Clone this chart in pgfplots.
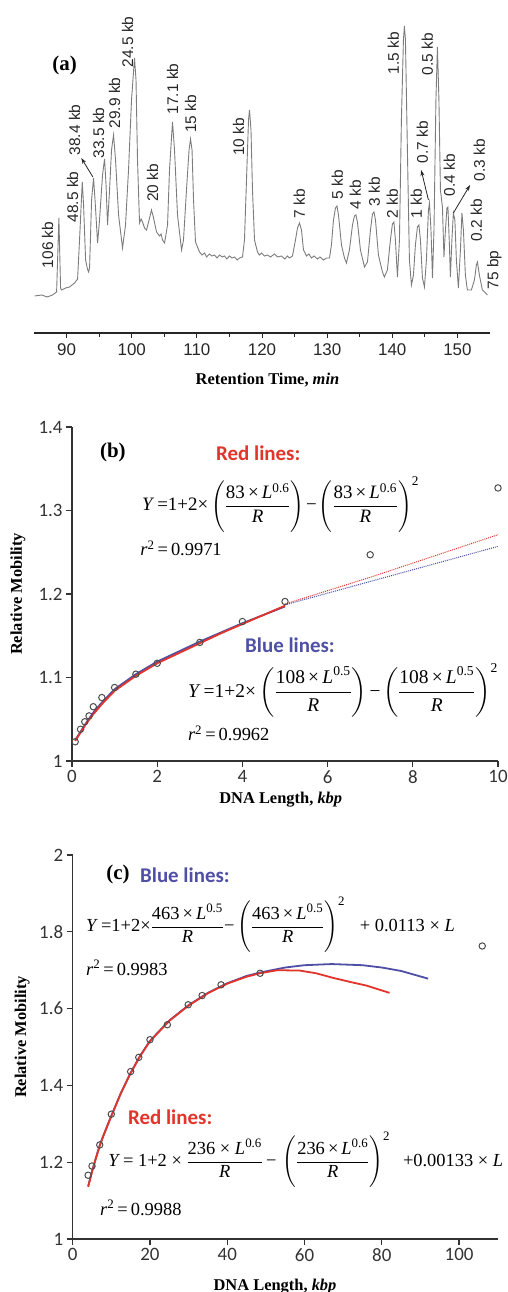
\documentclass[border=0pt]{standalone}
\usepackage{amsmath}
\usepackage{fontspec}
\setmainfont{Liberation Serif}
\newfontfamily\arial{Liberation Sans}
\newfontfamily\calibri{Carlito}
\usepackage{pgfplots}
\pgfplotsset{compat=1.18}
\usetikzlibrary{arrows.meta}

\definecolor{redl}{HTML}{E2342B}
\definecolor{bluel}{HTML}{4F4FA6}
\definecolor{tracec}{HTML}{7C7C7C}

\newcommand{\tm}[1]{\text{\normalfont #1}}
\newcommand{\fr}[2]{\dfrac{\tm{#1\,×\,}\textit{L}^{\tm{#2}}}{\textit{R}}}
\newcommand{\frw}[2]{\dfrac{\tm{#1 × }\textit{L}^{\tm{#2}}}{\textit{R}}}
\newcommand{\pfr}[2]{\left(\fr{#1}{#2}\right)}
\newcommand{\eqfont}{\fontsize{18.5}{22}\selectfont}
\newcommand{\pk}{\arial\fontsize{15.5}{18}\selectfont}

\pgfplotsset{
  fitpanel/.style={
    scale only axis, anchor=south west, clip=false,
    axis lines=left, axis line style={-, line width=1.4bp, black!80},
    tick align=outside, major tick length=6bp,
    tick style={line width=1.2bp, black!80},
    ticklabel style={font=\calibri\fontsize{19}{22}\selectfont, black!80},
    /pgf/number format/assume math mode=true,
    xlabel style={font=\fontsize{16.5}{19}\selectfont, anchor=center},
    ylabel style={font=\fontsize{16.5}{19}\selectfont, anchor=center},
  },
  pts/.style={only marks, mark=o, mark size=3.2bp, mark options={line width=1bp, black!70}},
}

\begin{document}
\begin{tikzpicture}
\path[use as bounding box] (0,0) rectangle (508bp,1292bp);

% ---------------- (a) chromatogram
\begin{axis}[
  at={(34bp,959bp)}, anchor=south west,
  scale only axis, width=456bp, height=313bp, clip=false,
  xmin=85, xmax=155, ymin=0, ymax=313,
  axis x line=bottom, axis y line=none,
  axis line style={-, line width=1.2bp, black!85},
  xtick={90,100,...,150}, minor xtick={95,105,...,145},
  tick align=outside, major tick length=5bp, minor tick length=4bp,
  tick style={line width=1bp, black!85},
  xticklabel style={font=\arial\fontsize{17}{20}\selectfont, black!85, yshift=-2bp},
  /pgf/number format/assume math mode=true,
  xlabel={\textbf{Retention Time, \textit{min}}},
  xlabel style={at={(rel axis cs:0.512,-0.150)}, anchor=center, font=\fontsize{16.5}{19}\selectfont},
]
\addplot[tracec, line width=0.9bp] coordinates {
(85.09,37)(86.2,38)(87.0,36)(87.85,38)(88.47,41)(88.82,115)(89.08,45)(89.23,43)(89.85,45)
(90.46,46)(91.23,50)(91.69,54)(91.99,93)(92.41,151)(92.61,128)(92.92,73)(93.2,64)(93.38,61)
(93.53,65)(93.84,133)(94.14,155)(94.37,133)(94.76,90)(95.06,113)(95.52,158)(95.83,174)
(96.06,148)(96.29,108)(96.60,143)(96.90,183)(97.21,198)(97.52,173)(97.98,118)(98.59,85)
(99.05,108)(99.51,163)(99.97,233)(100.43,275)(100.66,253)(100.89,173)(101.20,110)(101.45,114)
(101.66,111)(101.97,105)(102.28,103)(102.74,115)(103.04,123)(103.35,115)(103.81,101)
(104.27,97)(104.5,99)(104.73,93)(105.04,90)(105.50,108)(105.80,163)(106.26,211)(106.57,183)
(107.03,118)(107.65,83)(107.95,93)(108.41,143)(108.80,183)(109.03,194)(109.26,183)(109.49,133)
(109.79,91)(110.41,81)(110.8,78)(111.17,80)(111.5,76)(111.94,79)(112.3,77)(112.71,78)(113.1,75)
(113.48,78)(113.9,76)(114.24,77)(114.6,74)(115.01,77)(115.4,75)(115.78,76)(116.2,73)
(116.55,75)(117.01,76)(117.31,93)(117.62,153)(117.93,213)(118.08,223)(118.31,203)(118.54,143)
(118.85,93)(119.31,81)(119.6,78)(119.92,80)(120.4,77)(120.84,78)(121.3,76)(121.92,79)
(122.4,76)(122.99,77)(123.5,74)(123.9,77)(124.22,75)(124.68,77)(125.14,93)(125.45,105)
(125.75,110)(126.06,103)(126.37,83)(126.83,77)(127.2,79)(127.59,75)(128.0,77)(128.51,74)
(128.9,76)(129.43,73)(129.9,75)(130.36,75)(130.66,88)(130.97,113)(131.28,125)(131.51,127)
(131.74,118)(132.20,88)(132.66,75)(132.96,70)(133.42,83)(133.89,108)(134.19,117)(134.42,118)
(134.65,111)(135.11,83)(135.73,66)(136.19,71)(136.65,103)(136.96,119)(137.19,121)(137.42,113)
(137.87,78)(138.49,61)(138.79,56)(139.25,63)(139.71,93)(140.02,109)(140.25,111)(140.48,93)
(140.79,56)(141.10,93)(141.40,213)(141.71,293)(141.86,307)(142.02,293)(142.32,183)(142.63,73)
(142.94,48)(143.25,58)(143.55,88)(143.86,106)(144.09,108)(144.32,93)(144.63,55)(144.94,46)
(145.24,73)(145.55,123)(145.71,130)(145.94,103)(146.17,55)(146.40,103)(146.70,233)(146.93,286)
(147.16,233)(147.39,143)(147.70,126)(147.93,76)(148.16,103)(148.39,125)(148.54,126)(148.77,88)
(148.92,56)(149.15,93)(149.38,120)(149.61,113)(149.84,73)(150.15,45)(150.46,83)(150.69,120)
(150.92,103)(151.22,58)(151.53,43)(152.14,43)(152.61,53)(152.91,68)(153.07,71)(153.37,58)
(153.83,43)(154.60,38)
};
\node[font=\fontsize{21}{24}\selectfont\bfseries] at (axis cs:89.69,268) {(a)};
\begin{scope}[every node/.style={rotate=90, font=\pk, text=black!85, inner sep=0}]
\node at (axis cs:87.08,88) {106 kb};
\node at (axis cs:90.92,136) {48.5 kb};
\node at (axis cs:91.23,203) {38.4 kb};
\node at (axis cs:94.91,200) {33.5 kb};
\node at (axis cs:97.37,230) {29.9 kb};
\node at (axis cs:99.36,291) {24.5 kb};
\node at (axis cs:103.20,150) {20 kb};
\node at (axis cs:106.26,244) {17.1 kb};
\node at (axis cs:109.03,219) {15 kb};
\node at (axis cs:116.39,196) {10 kb};
\node at (axis cs:125.75,129) {7 kb};
\node at (axis cs:131.58,148) {5 kb};
\node at (axis cs:134.34,138) {4 kb};
\node at (axis cs:137.26,141) {3 kb};
\node at (axis cs:140.02,129) {2 kb};
\node at (axis cs:140.17,280) {1.5 kb};
\node at (axis cs:143.70,129) {1 kb};
\node at (axis cs:144.63,191) {0.7 kb};
\node at (axis cs:145.39,279) {0.5 kb};
\node at (axis cs:148.77,158) {0.4 kb};
\node at (axis cs:153.37,173) {0.3 kb};
\node at (axis cs:152.91,113) {0.2 kb};
\node at (axis cs:155.67,63) {75 bp};
\end{scope}
\draw[-{Stealth[length=6bp,width=4bp]}, line width=0.8bp, black!85] (axis cs:94.04,156) -- (axis cs:92.26,175);
\draw[-{Stealth[length=6bp,width=4bp]}, line width=0.8bp, black!85] (axis cs:145.55,133) -- (axis cs:144.43,163);
\draw[-{Stealth[length=6bp,width=4bp]}, line width=0.8bp, black!85] (axis cs:149.38,120) -- (axis cs:151.94,148);
\end{axis}

% ---------------- (b)
\begin{axis}[fitpanel,
  at={(72bp,531bp)}, width=426bp, height=334bp,
  xmin=0, xmax=10, ymin=1, ymax=1.4,
  xtick={0,2,4,6,8,10}, ytick={1,1.1,1.2,1.3,1.4},
  xlabel={\textbf{DNA Length, \textit{kbp}}},
  ylabel={\textbf{Relative Mobility}},
  xlabel style={at={(rel axis cs:0.49,-0.117)}},
  ylabel style={at={(rel axis cs:-0.127,0.5)}},
]
\addplot[bluel, line width=1.8bp] coordinates {
(0.075,1.025)(0.15,1.031)(0.25,1.039)(0.35,1.047)(0.5,1.058)(0.7,1.070)(1,1.086)(1.5,1.104)
(2,1.119)(2.5,1.131)(3,1.143)(3.5,1.154)(4,1.165)(4.5,1.175)(5,1.185)};
\addplot[redl, line width=1.8bp] coordinates {
(0.075,1.024)(0.15,1.030)(0.25,1.038)(0.35,1.046)(0.5,1.056)(0.7,1.068)(1,1.084)(1.5,1.102)
(2,1.117)(2.5,1.129)(3,1.141)(3.5,1.153)(4,1.164)(4.5,1.175)(5,1.186)};
\addplot[redl, densely dotted, line width=1bp] coordinates {
(5,1.188)(6,1.204)(7,1.220)(8,1.237)(9,1.254)(10,1.271)};
\addplot[bluel, densely dotted, line width=1bp] coordinates {
(5,1.187)(6,1.201)(7,1.215)(8,1.229)(9,1.243)(10,1.257)};
\addplot[pts] coordinates {
(0.075,1.023)(0.2,1.038)(0.3,1.047)(0.4,1.054)(0.5,1.065)(0.7,1.076)(1,1.088)(1.5,1.104)
(2,1.117)(3,1.142)(4,1.167)(5,1.191)(7,1.247)(10,1.327)};
\node[font=\fontsize{21}{24}\selectfont\bfseries] at (axis cs:0.96,1.370) {(b)};
\node[anchor=west, inner sep=0, text=redl, font=\calibri\bfseries\fontsize{21}{25}\selectfont] at (axis cs:3.38,1.368) {Red lines:};
\node[anchor=west, inner sep=0, font=\fontsize{19}{22}\selectfont] at (axis cs:1.64,1.307)
  {$\textit{Y}\tm{ =1+2×}\pfr{83}{0.6}\tm{\kern-1pt−\kern-1pt}\pfr{83}{0.6}^{\tm{2}}$};
\node[anchor=west, inner sep=0, font=\eqfont] at (axis cs:1.60,1.255) {$\textit{r}^{\tm{2}}\tm{\,=\,0.9971}$};
\node[anchor=west, inner sep=0, text=bluel, font=\calibri\bfseries\fontsize{21}{25}\selectfont] at (axis cs:4.06,1.139) {Blue lines:};
\node[anchor=west, inner sep=0, font=\fontsize{19.5}{23}\selectfont] at (axis cs:2.72,1.085)
  {$\textit{Y}\tm{ =1+2×}\pfr{108}{0.5}\tm{\kern-1pt−\kern-1pt}\pfr{108}{0.5}^{\tm{2}}$};
\node[anchor=west, inner sep=0, font=\eqfont] at (axis cs:2.72,1.0335) {$\textit{r}^{\tm{2}}\tm{\,=\,0.9962}$};
\end{axis}

% ---------------- (c)
\begin{axis}[fitpanel,
  at={(72.7bp,53bp)}, width=425bp, height=384bp,
  xmin=0, xmax=110, ymin=1, ymax=2,
  xtick={0,20,40,60,80,100}, ytick={1,1.2,1.4,1.6,1.8,2},
  xlabel={\textbf{DNA Length, \textit{kbp}}},
  ylabel={\textbf{Relative Mobility}},
  xlabel style={at={(rel axis cs:0.476,-0.125)}},
  ylabel style={at={(rel axis cs:-0.119,0.526)}},
]
\addplot[bluel, line width=1.8bp] coordinates {
(4,1.137)(5,1.176)(6,1.211)(7,1.244)(8,1.271)(10,1.321)(12.5,1.381)(15,1.433)(17.5,1.478)
(20,1.516)(25,1.569)(30,1.609)(35,1.641)(40,1.666)(45,1.685)(48.5,1.694)(55,1.707)(60,1.713)
(67,1.716)(75,1.713)(80,1.707)(85,1.698)(92,1.678)};
\addplot[redl, line width=1.8bp] coordinates {
(4,1.136)(5,1.175)(6,1.210)(7,1.243)(8,1.270)(10,1.320)(12.5,1.380)(15,1.432)(17.5,1.477)
(20,1.515)(25,1.568)(30,1.608)(35,1.640)(40,1.665)(45,1.683)(48.5,1.692)(53,1.700)(58.8,1.699)
(63,1.692)(67.4,1.680)(72,1.669)(76,1.660)(82,1.641)};
\addplot[pts] coordinates {
(4,1.166)(5,1.190)(7,1.245)(10,1.325)(15,1.436)(17.1,1.473)(20,1.519)(24.5,1.558)(29.9,1.610)
(33.5,1.634)(38.4,1.662)(48.5,1.692)(106,1.763)};
\node[font=\fontsize{21}{24}\selectfont\bfseries] at (axis cs:11.7,1.948) {(c)};
\node[anchor=west, inner sep=0, text=bluel, font=\calibri\bfseries\fontsize{21}{25}\selectfont] at (axis cs:17.4,1.948) {Blue lines:};
\node[anchor=west, inner sep=0, font=\eqfont] at (axis cs:3.44,1.818)
  {$\textit{Y}\tm{ =1+2×}\fr{463}{0.5}\tm{−}\pfr{463}{0.5}^{\tm{2}}\tm{\hspace{12bp}+ 0.0113 × }\textit{L}$};
\node[anchor=west, inner sep=0, font=\eqfont] at (axis cs:3.44,1.706) {$\textit{r}^{\tm{2}}\tm{\,=\,0.9983}$};
\node[anchor=west, inner sep=0, text=redl, font=\calibri\bfseries\fontsize{21}{25}\selectfont] at (axis cs:14.3,1.318) {Red lines:};
\node[anchor=west, inner sep=0, font=\eqfont] at (axis cs:9.15,1.206)
  {$\textit{Y}\tm{ = 1+2 × }\frw{236}{0.6}\tm{\,−\,}\pfr{236}{0.6}^{\tm{2}}\tm{\hspace{10bp}+0.00133 × }\textit{L}$};
\node[anchor=west, inner sep=0, font=\eqfont] at (axis cs:7.06,1.081) {$\textit{r}^{\tm{2}}\tm{\,=\,0.9988}$};
\end{axis}
\end{tikzpicture}
\end{document}
